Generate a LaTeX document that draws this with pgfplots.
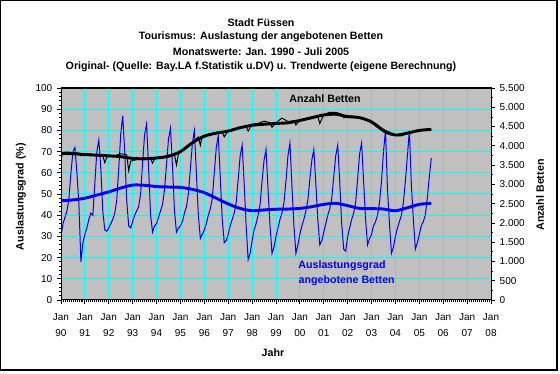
\documentclass[border=0pt]{standalone}
\usepackage{pgfplots}
\pgfplotsset{compat=1.18}
\usepackage{fontspec}
\setmainfont{Liberation Sans}
\definecolor{plotgray}{RGB}{192,192,192}
\definecolor{gridcyan}{RGB}{0,255,255}
\definecolor{lblue}{RGB}{0,0,255}
\newcommand{\tbf}{\bfseries\fontsize{8}{9.6}\selectfont}
\begin{document}
\begin{tikzpicture}[x=0.75pt,y=0.75pt]
\useasboundingbox (0,0) rectangle (560,374);
\fill[white] (0,0) rectangle (560,374);
\begin{axis}[
  at={(45.75pt,55.5pt)}, anchor=south west,
  width=322.5pt, height=159pt, scale only axis,
  xmin=0, xmax=216, ymin=0, ymax=100,
  axis background/.style={fill=plotgray},
  xtick={0,12,...,216},
  xticklabels={{Jan\\90},{Jan\\91},{Jan\\92},{Jan\\93},{Jan\\94},{Jan\\95},{Jan\\96},{Jan\\97},{Jan\\98},{Jan\\99},{Jan\\00},{Jan\\01},{Jan\\02},{Jan\\03},{Jan\\04},{Jan\\05},{Jan\\06},{Jan\\07},{Jan\\08}},
  minor x tick num=11,
  ytick={0,10,...,100},
  minor y tick num=4,
  xtick pos=bottom, ytick pos=left,
  tick align=outside,
  major tick length=3pt, minor tick length=1.5pt,
  grid=major,
  major grid style={draw=gridcyan, line width=0.75pt},
  tick style={black, line width=0.6pt},
  axis line style={black, line width=0.75pt},
  tick label style={font=\fontsize{7.5}{12.5}\selectfont},
  xticklabel style={align=center, yshift=-3.5pt},
  /pgf/number format/assume math mode=true,
]
\addplot[lblue, line width=0.75pt, mark=none] table[row sep=\\] {
x y\\
0 30\\ 1 36\\ 2 39\\ 3 42\\ 4 48\\ 5 60\\ 6 70\\ 7 72\\ 8 60\\ 9 45\\ 10 18\\ 11 27\\
12 31\\ 13 34\\ 14 38\\ 15 41\\ 16 40\\ 17 55\\ 18 70\\ 19 75.5\\ 20 62\\ 21 42\\ 22 33\\ 23 32.5\\
24 34\\ 25 36\\ 26 38\\ 27 41\\ 28 47\\ 29 62\\ 30 78\\ 31 87\\ 32 70\\ 33 47\\ 34 35\\ 35 34\\
36 37\\ 37 40\\ 38 42\\ 39 44\\ 40 50\\ 41 65\\ 42 78\\ 43 83\\ 44 62\\ 45 40\\ 46 32\\ 47 35\\
48 36\\ 49 39\\ 50 42\\ 51 45\\ 52 52\\ 53 64\\ 54 76\\ 55 81\\ 56 63\\ 57 42\\ 58 32\\ 59 34\\
60 35\\ 61 37\\ 62 41\\ 63 44\\ 64 50\\ 65 62\\ 66 74\\ 67 80\\ 68 60\\ 69 40\\ 70 29\\ 71 31\\
72 33\\ 73 36\\ 74 40\\ 75 43\\ 76 48\\ 77 60\\ 78 72\\ 79 77.5\\ 80 58\\ 81 38\\ 82 27\\ 83 28\\
84 31\\ 85 35\\ 86 38\\ 87 41\\ 88 46\\ 89 57\\ 90 68\\ 91 73\\ 92 55\\ 93 35\\ 94 19\\ 95 22\\
96 28\\ 97 33\\ 98 36\\ 99 40\\ 100 45\\ 101 56\\ 102 66\\ 103 71\\ 104 52\\ 105 35\\ 106 22\\ 107 25\\
108 30\\ 109 34\\ 110 38\\ 111 41\\ 112 46\\ 113 56\\ 114 68\\ 115 74\\ 116 54\\ 117 35\\ 118 22\\ 119 26\\
120 31\\ 121 35\\ 122 38\\ 123 42\\ 124 47\\ 125 57\\ 126 66\\ 127 71\\ 128 55\\ 129 38\\ 130 26\\ 131 28\\
132 32\\ 133 36\\ 134 40\\ 135 43\\ 136 48\\ 137 58\\ 138 68\\ 139 73\\ 140 56\\ 141 36\\ 142 24\\ 143 23\\
144 30\\ 145 34\\ 146 38\\ 147 41\\ 148 46\\ 149 57\\ 150 69\\ 151 74\\ 152 56\\ 153 38\\ 154 26\\ 155 29\\
156 31\\ 157 35\\ 158 37\\ 159 40\\ 160 46\\ 161 56\\ 162 70\\ 163 80\\ 164 52\\ 165 36\\ 166 22\\ 167 25\\
168 30\\ 169 34\\ 170 37\\ 171 40\\ 172 46\\ 173 56\\ 174 68\\ 175 80\\ 176 54\\ 177 38\\ 178 24\\ 179 27\\
180 31\\ 181 35\\ 182 37\\ 183 40\\ 184 48\\ 185 58\\ 186 67\\
};
\addplot[lblue, line width=2.2pt, mark=none, smooth] table[row sep=\\] {
x y\\
0 46.8\\ 6 47.2\\ 12 48\\ 18 49.5\\ 24 51\\ 30 52.8\\ 36 54.2\\ 42 54.1\\ 48 53.5\\ 54 53.3\\
60 53.1\\ 66 52.2\\ 72 50.6\\ 78 48\\ 84 45.3\\ 90 43.2\\ 96 42.1\\ 102 42.5\\ 108 42.8\\ 114 42.9\\
120 43.2\\ 126 44\\ 132 45.1\\ 138 45.6\\ 144 44.5\\ 150 43.2\\ 156 43.1\\ 162 42.9\\ 168 42.1\\
174 43.5\\ 180 45.1\\ 186 45.6\\
};
\end{axis}
\begin{axis}[
  at={(45.75pt,55.5pt)}, anchor=south west,
  width=322.5pt, height=159pt, scale only axis,
  xmin=0, xmax=216, ymin=0, ymax=5500,
  xtick=\empty,
  ytick={0,500,...,5500},
  minor y tick num=1,
  ytick pos=right,
  tick align=outside,
  major tick length=3pt, minor tick length=1.5pt,
  tick style={black, line width=0.6pt},
  axis line style={black, line width=0.75pt},
  scaled y ticks=false,
  tick label style={font=\fontsize{7.5}{12}\selectfont},
  yticklabel style={/pgf/number format/.cd, 1000 sep={.}},
  /pgf/number format/assume math mode=true,
]
\addplot[black, line width=0.75pt, mark=none] table[row sep=\\] {
x y\\
0 3658\\ 1 3820\\ 3 3840\\ 6 3823\\ 9 3812\\ 10 3740\\ 12 3795\\ 15 3784\\ 18 3757\\ 21 3740\\
22 3564\\ 23 3713\\ 27 3740\\ 30 3795\\ 33 3768\\ 34 3355\\ 35 3603\\ 39 3658\\ 42 3685\\ 45 3674\\
46 3548\\ 47 3658\\ 51 3713\\ 54 3757\\ 57 3768\\ 58 3504\\ 59 3795\\ 63 3950\\ 66 4100\\ 69 4230\\
70 4015\\ 71 4260\\ 75 4300\\ 78 4350\\ 81 4360\\ 82 4235\\ 84 4390\\ 87 4430\\ 90 4460\\ 93 4500\\
94 4380\\ 96 4560\\ 99 4580\\ 102 4640\\ 105 4600\\ 106 4480\\ 108 4600\\ 111 4720\\ 114 4630\\
117 4650\\ 118 4540\\ 120 4670\\ 123 4690\\ 126 4740\\ 129 4750\\ 130 4580\\ 132 4810\\ 135 4870\\
138 4870\\ 141 4820\\ 142 4730\\ 144 4770\\ 147 4770\\ 150 4720\\ 153 4690\\ 156 4600\\ 159 4480\\
162 4360\\ 165 4290\\ 168 4270\\ 171 4260\\ 174 4320\\ 177 4370\\ 180 4400\\ 183 4400\\ 186 4420\\
};
\addplot[black, line width=2.2pt, mark=none, smooth] table[row sep=\\] {
x y\\
0 3806\\ 6 3795\\ 12 3773\\ 18 3757\\ 24 3740\\ 30 3718\\ 36 3674\\ 42 3663\\ 48 3685\\ 54 3729\\
60 3850\\ 66 4080\\ 72 4250\\ 78 4330\\ 84 4383\\ 90 4470\\ 96 4532\\ 102 4560\\ 108 4580\\
114 4598\\ 120 4658\\ 126 4730\\ 132 4800\\ 138 4818\\ 144 4758\\ 150 4730\\ 156 4620\\ 162 4400\\
168 4280\\ 174 4330\\ 180 4400\\ 186 4425\\
};
\end{axis}
\draw[line width=0.9pt] (0.6,4) rectangle (557,373.4);
\node[font=\tbf] at (261,351.3) {Stadt Füssen};
\node[font=\tbf] at (261,337.3) {Tourismus: Auslastung der angebotenen Betten};
\node[font=\tbf] at (261,322.3) {Monatswerte: Jan. 1990 - Juli 2005};
\node[font=\tbf] at (261,307.3) {Original- (Quelle: Bay.LA f.Statistik u.DV) u. Trendwerte (eigene Berechnung)};
\node[font=\tbf, rotate=90] at (21,177.3) {Auslastungsgrad (\%)};
\node[font=\tbf, rotate=90] at (540,179) {Anzahl Betten};
\node[font=\tbf] at (273,21) {Jahr};
\node[font=\tbf] at (325,275) {Anzahl Betten};
\node[font=\tbf, text=lblue] at (342,108.3) {Auslastungsgrad};
\node[font=\tbf, text=lblue] at (346.7,93) {angebotene Betten};
\end{tikzpicture}
\end{document}
